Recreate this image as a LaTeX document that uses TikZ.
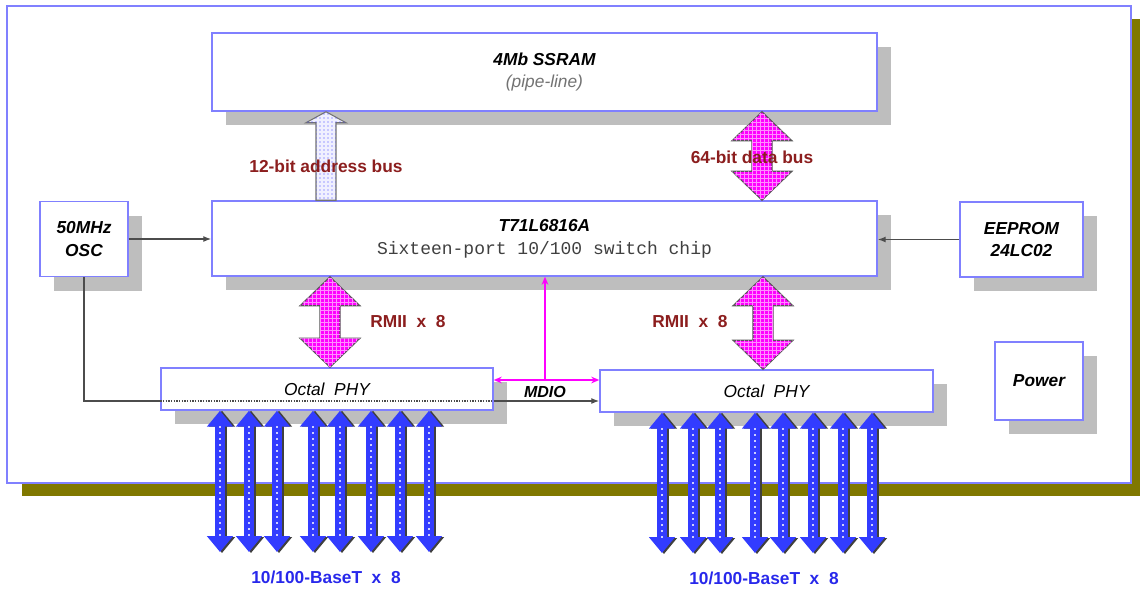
\documentclass[tikz,border=0pt]{standalone}
\usepackage{fontspec}
\setmainfont{Liberation Sans}
\newfontfamily\monofont{Liberation Mono}
\usetikzlibrary{arrows.meta,calc,patterns,shadows}
\definecolor{boxblue}{RGB}{128,128,255}
\definecolor{shade}{RGB}{190,190,190}
\definecolor{boardolive}{RGB}{128,120,0}
\definecolor{lblred}{RGB}{140,30,30}
\definecolor{lblblue}{RGB}{40,40,235}
\definecolor{busblue}{RGB}{50,60,255}
\definecolor{pinkbus}{RGB}{255,0,255}
\newcommand\fatdarrow[4]{%
  \path[#1] let \p1=(#2,0 |- #3), \p2=(#2,0 |- #4) in
    (\x1,\y1) -- (\x1+22.5pt,\y1-21.75pt) -- (\x1+7.5pt,\y1-21.75pt)
    -- (\x1+7.5pt,\y2+21.75pt) -- (\x1+22.5pt,\y2+21.75pt) -- (\x1,\y2)
    -- (\x1-22.5pt,\y2+21.75pt) -- (\x1-7.5pt,\y2+21.75pt)
    -- (\x1-7.5pt,\y1-21.75pt) -- (\x1-22.5pt,\y1-21.75pt) -- cycle;}
\begin{document}
\begin{tikzpicture}[x=0.75pt,y=-0.75pt,
  box/.style={draw=boxblue, line width=1.1pt, fill=white, inner sep=0pt, align=center,
    font=\fontsize{13}{17}\selectfont\bfseries\itshape,
    drop shadow={shadow xshift=10.5pt, shadow yshift=-10.5pt, fill=shade, opacity=1}},
  lbl/.style={font=\fontsize{13}{15}\selectfont\bfseries, text=lblred, inner sep=1pt},
  blbl/.style={font=\fontsize{13}{15}\selectfont\bfseries, text=lblblue, inner sep=1pt},
  sig/.style={draw=black!70, line width=1pt},
  tip/.style={-{Latex[length=6pt,width=4.5pt]}},
  mdio/.style={draw=pinkbus, line width=1pt},
  pinkarrow/.style={fill=pinkbus, draw=black!65, line width=0.8pt,
    postaction={pattern=grid, pattern color=white!55!pinkbus}},
  addrarrow/.style={fill=blue!6, draw=black!55, line width=0.8pt,
    postaction={pattern=dots, pattern color=blue!75}},
  bbus/.style={line width=8pt, draw=busblue,
    {Triangle[width=19pt,length=12pt]}-{Triangle[width=19pt,length=12pt]}},
  bshadow/.style={line width=8pt, draw=black!75,
    {Triangle[width=19pt,length=12pt]}-{Triangle[width=19pt,length=12pt]}},
  bdash/.style={draw=white!75!busblue, line width=1pt, dash pattern=on 1.5pt off 3pt}
]
\useasboundingbox (0,0) rectangle (1140,590);
% board
\fill[boardolive] (22,19) rectangle (1140,496);
\draw[boxblue, line width=1.6pt, fill=white] (7,6) rectangle (1131,483);

% blocks
\node[box, minimum width=498.75pt, minimum height=58.5pt] (ssram) at (544.5,72)
  {4Mb SSRAM\\{\mdseries\color{black!55}(pipe-line)}};
\node[box, minimum width=498.75pt, minimum height=56.25pt] (t71) at (544.5,238.5)
  {T71L6816A\\{\monofont\mdseries\upshape\fontsize{13.5}{17}\selectfont\color{black!75}Sixteen-port 10/100 switch chip}};
\node[box, minimum width=66pt, minimum height=56.25pt] (osc) at (84,239) {50MHz\\OSC};
\node[box, minimum width=92.25pt, minimum height=56.25pt] (eeprom) at (1021.5,239.5) {EEPROM\\24LC02};
\node[box, minimum width=66pt, minimum height=58.5pt] (power) at (1039,381) {Power};
\node[box, minimum width=249pt, minimum height=31.5pt, font=\fontsize{13}{17}\selectfont\itshape] (phyL) at (327,389) {Octal~ PHY};
\node[box, minimum width=249.75pt, minimum height=31.5pt, font=\fontsize{13}{17}\selectfont\itshape] (phyR) at (766.5,391) {Octal~ PHY};

% clock and eeprom signals
\coordinate (clk) at (83,401);
\draw[sig, tip] (osc.east) -- (t71.west |- osc.east);
\draw[sig, tip] (eeprom.west) -- (t71.east |- eeprom.west);
\draw[sig] (osc.south) |- (phyL.west |- clk);
\draw[sig, densely dotted] (phyL.west |- clk) -- (phyL.east |- clk);
\draw[sig, tip] (phyL.east |- clk) -- (phyR.west |- clk);

% MDIO
\coordinate (mj) at (545,380);
\draw[mdio, -{Stealth[length=6pt,width=5pt]}] (mj) -- (mj |- t71.south);
\draw[mdio, {Stealth[length=6pt,width=5pt]}-{Stealth[length=6pt,width=5pt]}] (phyL.east |- mj) -- (phyR.west |- mj);

% address bus
\path[addrarrow] let \p1=(326,0 |- ssram.south), \p2=(326,0 |- t71.north) in
  (\x1,\y1) -- (\x1+15pt,\y1-8.25pt) -- (\x1+7.5pt,\y1-8.25pt) -- (\x1+7.5pt,\y2)
  -- (\x1-7.5pt,\y2) -- (\x1-7.5pt,\y1-8.25pt) -- (\x1-15pt,\y1-8.25pt) -- cycle;

% pink buses
\fatdarrow{pinkarrow}{762}{ssram.south}{t71.north}
\fatdarrow{pinkarrow}{330}{t71.south}{phyL.north}
\fatdarrow{pinkarrow}{763}{t71.south}{phyR.north}

% 10/100 ports
\foreach \x in {220,249,277,313,340,371,400,429} {
  \draw[bshadow] (\x+2,553) -- (\x+2,0 |- phyL.south);
  \draw[bbus] (\x,552) -- (\x,0 |- phyL.south);
  \draw[bdash] (\x,426) -- (\x,538);
}
\foreach \x in {662,693,720,755,783,813,843,872} {
  \draw[bshadow] (\x+2,554) -- (\x+2,0 |- phyR.south);
  \draw[bbus] (\x,553) -- (\x,0 |- phyR.south);
  \draw[bdash] (\x,428) -- (\x,539);
}

% labels
\node[lbl] (addrlbl) at (326,166) {12-bit address bus};
\node[lbl] (datalbl) at (752,157) {64-bit data bus};
\node[lbl] (rmiiL) at (408,322) {RMII~ x~ 8};
\node[lbl] (rmiiR) at (690,322) {RMII~ x~ 8};
\node[font=\fontsize{12}{14}\selectfont\bfseries\itshape, inner sep=1pt] (mdiolbl) at (545,392) {MDIO};
\node[blbl] (baseL) at (326,577) {10/100-BaseT~ x~ 8};
\node[blbl] (baseR) at (764,578) {10/100-BaseT~ x~ 8};
\end{tikzpicture}
\end{document}
